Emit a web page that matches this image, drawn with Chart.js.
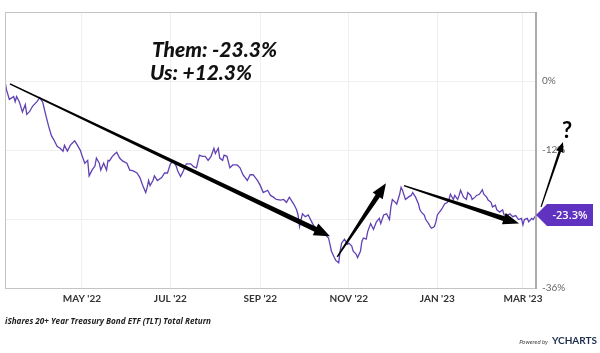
<!DOCTYPE html>
<html lang="en">
<head>
<meta charset="UTF-8">
<title>iShares 20+ Year Treasury Bond ETF (TLT) Total Return</title>
<style>
  html, body { margin: 0; padding: 0; background: #fff; }
  #wrap { width: 600px; height: 353px; }
</style>
<script src="https://cdn.jsdelivr.net/npm/chart.js"></script>
</head>
<body>
<div id="wrap"><canvas id="tltChart" width="600" height="353"></canvas></div>
<script>
// calendar days since Mar 9 '22, total return in %
const days = [0,1,3,6,7,8,10,12,14,15,17,19,22,24,26,28,30,32,34,36,38,40,41,43,45,46,48,50,52,53,55,57,58,60,62,63,65,66,68,70,71,72,74,76,77,79,81,84,86,88,91,93,95,97,98,99,100,102,103,105,108,110,112,114,116,118,119,121,123,125,128,130,132,134,136,138,140,142,144,145,147,148,150,151,153,155,157,160,162,164,167,169,171,174,176,178,181,183,185,187,190,192,194,196,199,201,202,203,205,207,209,212,214,217,221,223,224,225,227,228,230,231,232,234,236,237,239,240,242,243,245,246,247,249,250,252,253,254,256,258,259,261,263,265,266,267,269,270,272,273,274,276,278,280,281,283,285,286,287,289,290,292,293,294,296,297,298,301,303,305,306,307,309,310,312,313,314,316,318,319,321,322,324,325,327,329,330,332,333,335,336,338,339,341,343,344,346,348,350,352,354,356,357,358,360,361,363,364,366];
const totalReturn = [0,-1.5,-3.2,-2.7,-3.6,-2.7,-3.7,-5.4,-4.1,-5.8,-5.3,-4.4,-3.6,-2.9,-3.7,-5.8,-7.8,-9.5,-10.4,-11.4,-11.7,-12.2,-11.2,-12.2,-11.2,-10.9,-10.4,-11.2,-12.1,-12.9,-14.3,-13.8,-16.5,-15.5,-14.8,-13.4,-14.3,-15.5,-14.3,-15.5,-13.8,-13.9,-13.1,-12.6,-12.4,-13.4,-13.9,-14.3,-15.5,-15.6,-16.0,-16.8,-18.2,-19.4,-18.5,-17.3,-18.2,-17.3,-16.5,-17.3,-16.8,-16.0,-16.0,-14.4,-13.9,-14.8,-15.6,-16.6,-15.6,-14.4,-14.4,-14.9,-15.1,-12.9,-13.1,-13.1,-13.8,-13.1,-11.7,-12.6,-11.7,-13.4,-13.8,-12.9,-13.1,-15.1,-14.6,-14.6,-15.1,-16.3,-17.3,-16.3,-16.3,-17.3,-18.2,-19.4,-19.0,-19.9,-20.2,-20.6,-20.7,-20.6,-21.1,-20.2,-21.4,-22.4,-23.3,-25.3,-23.1,-23.6,-23.3,-24.8,-25.6,-26.5,-26.8,-27.3,-28.4,-29.6,-30.7,-31.2,-31.6,-29.6,-28.2,-27.5,-28.4,-28.2,-28.7,-29.6,-30.1,-30.7,-29.6,-27.9,-27.3,-27.5,-26.2,-24.8,-25.3,-25.8,-24.5,-23.9,-24.8,-23.3,-23.1,-24.1,-21.9,-20.6,-21.1,-21.4,-19.7,-18.5,-19.0,-20.6,-20.2,-19.9,-19.4,-20.2,-21.4,-22.4,-22.8,-23.3,-24.1,-24.8,-25.3,-25.6,-25.3,-24.5,-23.3,-22.3,-21.4,-21.1,-20.6,-19.7,-20.6,-19.9,-20.6,-19.9,-19.0,-20.2,-20.6,-19.4,-19.9,-20.6,-20.2,-19.9,-19.7,-18.9,-19.7,-20.2,-20.7,-21.1,-21.9,-21.6,-22.4,-22.8,-22.4,-23.3,-23.4,-23.1,-23.6,-23.4,-24.1,-23.9,-25.0,-24.1,-23.9,-24.5,-23.9,-24.1,-23.3];

const tickDays = [53, 114, 176, 237, 298, 357];
const tickLabels = ["MAY '22", "JUL '22", "SEP '22", "NOV '22", "JAN '23", "MAR '23"];
const yTicks = [12, 0, -12, -24, -36];
const lastLabel = '-23.3%';
const notes = ['Them: -23.3%', 'Us: +12.3%'];

// hand drawn arrows, in data units (day, %)
const arrows = [
  { from: [3.4, -0.5], to: [224, -27.0], w0: 1.4, w1: 5, hl: 16, hw: 13 },
  { from: [229, -30.6], to: [262.6, -17.8], w0: 1.4, w1: 5, hl: 15, hw: 12 },
  { from: [275, -18.2], to: [354.3, -24.8], w0: 1.4, w1: 5, hl: 16, hw: 12 },
  { from: [369.5, -21.9], to: [384.6, -10.6], w0: 1.2, w1: 2.6, hl: 10, hw: 8 }
];

function drawArrow(ctx, x0, y0, x1, y1, w0, w1, hl, hw) {
  const dx = x1 - x0, dy = y1 - y0;
  const len = Math.hypot(dx, dy);
  const ux = dx / len, uy = dy / len;
  const nx = -uy, ny = ux;
  const bx = x1 - ux * hl, by = y1 - uy * hl;
  ctx.beginPath();
  ctx.moveTo(x0 + nx * w0 / 2, y0 + ny * w0 / 2);
  ctx.lineTo(bx + nx * w1 / 2, by + ny * w1 / 2);
  ctx.lineTo(bx + nx * hw / 2, by + ny * hw / 2);
  ctx.lineTo(x1, y1);
  ctx.lineTo(bx - nx * hw / 2, by - ny * hw / 2);
  ctx.lineTo(bx - nx * w1 / 2, by - ny * w1 / 2);
  ctx.lineTo(x0 - nx * w0 / 2, y0 - ny * w0 / 2);
  ctx.closePath();
  ctx.fill();
}

const extras = {
  id: 'extras',
  afterDraw(chart) {
    const ctx = chart.ctx;
    const a = chart.chartArea;
    const xs = chart.scales.x, ys = chart.scales.y;
    ctx.save();

    // frame
    ctx.strokeStyle = '#c4c4c4';
    ctx.lineWidth = 1;
    ctx.strokeRect(a.left + 0.5, a.top + 0.5, a.right - a.left - 1, a.bottom - a.top);
    ctx.strokeStyle = '#ababab';
    ctx.lineWidth = 2;
    ctx.beginPath();
    ctx.moveTo(a.right, a.top);
    ctx.lineTo(a.right, a.bottom + 1);
    ctx.stroke();

    // arrows
    ctx.fillStyle = '#000';
    arrows.forEach(ar => {
      drawArrow(ctx,
        xs.getPixelForValue(ar.from[0]), ys.getPixelForValue(ar.from[1]),
        xs.getPixelForValue(ar.to[0]), ys.getPixelForValue(ar.to[1]),
        ar.w0, ar.w1, ar.hl, ar.hw);
    });

    // question mark at the end of the last arrow
    const q = arrows[arrows.length - 1].to;
    ctx.font = 'bold 22px Lato, sans-serif';
    ctx.textAlign = 'center';
    ctx.textBaseline = 'alphabetic';
    ctx.fillText('?', xs.getPixelForValue(q[0]) + 4, ys.getPixelForValue(q[1]) - 4);

    // last value flag
    const ly = ys.getPixelForValue(totalReturn[totalReturn.length - 1]);
    const lx = a.right;
    ctx.fillStyle = '#5f33bf';
    ctx.beginPath();
    ctx.moveTo(lx, ly);
    ctx.lineTo(lx + 11, ly - 11);
    ctx.lineTo(593, ly - 11);
    ctx.lineTo(593, ly + 11);
    ctx.lineTo(lx + 11, ly + 11);
    ctx.closePath();
    ctx.fill();
    ctx.fillStyle = '#fff';
    ctx.font = '600 11px "Open Sans", sans-serif';
    ctx.textAlign = 'center';
    ctx.textBaseline = 'middle';
    ctx.fillText(lastLabel, 570, ly + 1);

    // handwritten notes
    ctx.fillStyle = '#111';
    ctx.textAlign = 'left';
    ctx.textBaseline = 'alphabetic';
    ctx.font = 'italic 900 21px Lato, sans-serif';
    ctx.fillText(notes[0], 152, 57, 133);
    ctx.fillText(notes[1], 150, 80, 102);

    // footer
    ctx.fillStyle = '#222';
    ctx.font = 'italic bold 9px "Open Sans", sans-serif';
    ctx.fillText('iShares 20+ Year Treasury Bond ETF (TLT) Total Return', 5, 324, 206);
    ctx.textAlign = 'right';
    ctx.font = 'bold 10px Lato, sans-serif';
    ctx.fillStyle = '#1d2c4c';
    ctx.fillText('YCHARTS', 597, 344);
    const w = ctx.measureText('YCHARTS').width;
    ctx.font = 'italic 6px Lato, sans-serif';
    ctx.fillStyle = '#444';
    ctx.fillText('Powered by', 597 - w - 4, 344);
    ctx.restore();
  }
};

new Chart(document.getElementById('tltChart'), {
  type: 'line',
  data: {
    datasets: [{
      data: days.map((d, i) => ({ x: d, y: totalReturn[i] })),
      borderColor: '#6141b3',
      borderWidth: 1.3,
      pointRadius: 0,
      tension: 0,
      fill: false
    }]
  },
  options: {
    responsive: false,
    animation: false,
    devicePixelRatio: 1,
    layout: { padding: { left: 5, top: 6, right: 0, bottom: 43 } },
    plugins: { legend: { display: false }, tooltip: { enabled: false } },
    scales: {
      x: {
        type: 'linear',
        min: 0,
        max: 366,
        afterBuildTicks: s => { s.ticks = tickDays.map(v => ({ value: v })); },
        afterFit: s => { s.height = 22; },
        ticks: {
          callback: v => tickLabels[tickDays.indexOf(v)],
          autoSkip: false,
          maxRotation: 0,
          padding: 5,
          color: '#333',
          font: { family: 'Lato', size: 10, weight: 'bold' }
        },
        grid: { color: '#efefef', drawTicks: false },
        border: { display: false }
      },
      y: {
        position: 'right',
        min: -36,
        max: 12,
        afterBuildTicks: s => { s.ticks = yTicks.map(v => ({ value: v })); },
        afterFit: s => { s.width = 64; },
        ticks: {
          callback: v => (v === 12 ? '' : v + '%'),
          padding: 6,
          color: '#666',
          font: { family: 'Lato', size: 10 }
        },
        grid: { color: '#efefef', drawTicks: false },
        border: { display: false }
      }
    }
  },
  plugins: [extras]
});
</script>
</body>
</html>
